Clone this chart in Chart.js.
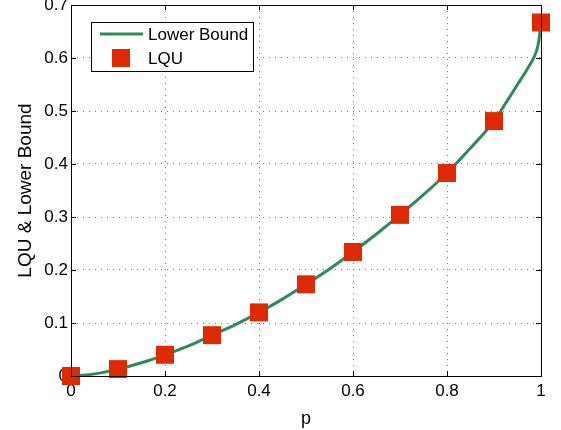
<!DOCTYPE html>
<html>
<head>
<meta charset="utf-8">
<script src="https://cdn.jsdelivr.net/npm/chart.js@4"></script>
<style>
  html, body { margin: 0; padding: 0; background: #fff; }
  #wrap { width: 561px; height: 430px; }
</style>
</head>
<body>
<div id="wrap"><canvas id="lqu-chart"></canvas></div>
<script>
// data
const pValues = [0, 0.1, 0.2, 0.3, 0.4, 0.5, 0.6, 0.7, 0.8, 0.9, 1];
const lquValues = [0, 0.013, 0.04, 0.077, 0.12, 0.173, 0.234, 0.304, 0.383, 0.481, 0.667];

const boundP = [0, 0.05, 0.1, 0.15, 0.2, 0.25, 0.3, 0.35, 0.4, 0.45, 0.5, 0.55, 0.6, 0.65, 0.7, 0.75, 0.8, 0.85, 0.9, 0.93, 0.95, 0.97, 0.98, 0.99, 0.995, 1];
const boundValues = [0, 0.004, 0.013, 0.025, 0.04, 0.057, 0.077, 0.097, 0.12, 0.145, 0.173, 0.202, 0.234, 0.268, 0.304, 0.342, 0.383, 0.43, 0.481, 0.522, 0.55, 0.578, 0.593, 0.612, 0.63, 0.667];

const xTicks = [0, 0.2, 0.4, 0.6, 0.8, 1];
const xTickLabels = ['0', '0.2', '0.4', '0.6', '0.8', '1'];
const yTicks = [0, 0.1, 0.2, 0.3, 0.4, 0.5, 0.6, 0.7];
const yTickLabels = ['0', '0.1', '0.2', '0.3', '0.4', '0.5', '0.6', '0.7'];

const FONT = 'Liberation Sans, Arial, Helvetica, sans-serif';
const GREEN = '#2E8B57';
const RED = '#DD2A00';

// box, inward ticks and legend, matlab style
const framePlugin = {
    id: 'frame',
    afterDraw(chart) {
        const ctx = chart.ctx;
        const a = chart.chartArea;
        const xs = chart.scales.x, ys = chart.scales.y;
        ctx.save();
        ctx.strokeStyle = '#000';
        ctx.lineWidth = 1;
        ctx.beginPath();
        xTicks.forEach(v => {
            const px = Math.round(xs.getPixelForValue(v)) + 0.5;
            ctx.moveTo(px, a.bottom); ctx.lineTo(px, a.bottom - 5);
            ctx.moveTo(px, a.top); ctx.lineTo(px, a.top + 5);
        });
        yTicks.forEach(v => {
            const py = Math.round(ys.getPixelForValue(v)) + 0.5;
            ctx.moveTo(a.left, py); ctx.lineTo(a.left + 5, py);
            ctx.moveTo(a.right, py); ctx.lineTo(a.right - 5, py);
        });
        ctx.stroke();
        ctx.strokeRect(Math.round(a.left) + 0.5, Math.round(a.top) + 0.5,
            Math.round(a.right - a.left), Math.round(a.bottom - a.top));

        // legend
        const lx = 91, ly = 22, lw = 162, lh = 49;
        ctx.fillStyle = '#fff';
        ctx.fillRect(lx, ly, lw, lh);
        ctx.strokeRect(lx + 0.5, ly + 0.5, lw, lh);
        const ds = chart.data.datasets;
        ctx.strokeStyle = ds[0].borderColor;
        ctx.lineWidth = 3;
        ctx.beginPath();
        ctx.moveTo(100, 34); ctx.lineTo(143, 34);
        ctx.stroke();
        ctx.fillStyle = ds[1].backgroundColor;
        ctx.fillRect(112, 49, 18, 18);
        ctx.fillStyle = '#000';
        ctx.font = '17px ' + FONT;
        ctx.textBaseline = 'middle';
        ctx.fillText(ds[0].label, 148, 35);
        ctx.fillText(ds[1].label, 148, 59);
        ctx.restore();
    }
};

const ctx = document.getElementById('lqu-chart');
new Chart(ctx, {
    type: 'scatter',
    data: {
        datasets: [
            {
                label: 'Lower Bound',
                data: boundP.map((p, i) => ({ x: p, y: boundValues[i] })),
                showLine: true,
                borderColor: GREEN,
                borderWidth: 3,
                pointRadius: 0,
                cubicInterpolationMode: 'monotone',
                order: 2
            },
            {
                label: 'LQU',
                data: pValues.map((p, i) => ({ x: p, y: lquValues[i] })),
                showLine: false,
                pointStyle: 'rect',
                pointRadius: 12.7,
                backgroundColor: RED,
                borderColor: RED,
                borderWidth: 0,
                order: 1
            }
        ]
    },
    options: {
        responsive: true,
        maintainAspectRatio: false,
        animation: false,
        clip: false,
        layout: { autoPadding: false, padding: { left: 0, top: 5, right: 20, bottom: 0 } },
        plugins: {
            legend: { display: false },
            tooltip: { enabled: false }
        },
        scales: {
            x: {
                type: 'linear',
                min: 0, max: 1,
                afterBuildTicks: s => { s.ticks = xTicks.map(v => ({ value: v })); },
                afterFit: s => { s.height = 54; s.paddingLeft = 0; s.paddingRight = 0; },
                ticks: {
                    callback: (v, i) => xTickLabels[i],
                    color: '#000',
                    font: { family: FONT, size: 17 },
                    padding: 5,
                    maxRotation: 0
                },
                grid: { color: '#777', lineWidth: 1, drawTicks: false },
                border: { display: false, dash: [1, 5] },
                title: {
                    display: true, text: 'p', color: '#000',
                    font: { family: FONT, size: 18 },
                    padding: { top: 2, bottom: 0 }
                }
            },
            y: {
                type: 'linear',
                min: 0, max: 0.7,
                afterBuildTicks: s => { s.ticks = yTicks.map(v => ({ value: v })); },
                afterFit: s => { s.width = 71; s.paddingTop = 0; s.paddingBottom = 0; },
                ticks: {
                    callback: (v, i) => yTickLabels[i],
                    color: '#000',
                    font: { family: FONT, size: 17 },
                    padding: 3
                },
                grid: { color: '#777', lineWidth: 1, drawTicks: false },
                border: { display: false, dash: [1, 5] },
                title: {
                    display: true, text: 'LQU & Lower Bound', color: '#000',
                    font: { family: FONT, size: 19 },
                    padding: { top: 14, bottom: 0 }
                }
            }
        }
    },
    plugins: [framePlugin]
});
</script>
</body>
</html>
